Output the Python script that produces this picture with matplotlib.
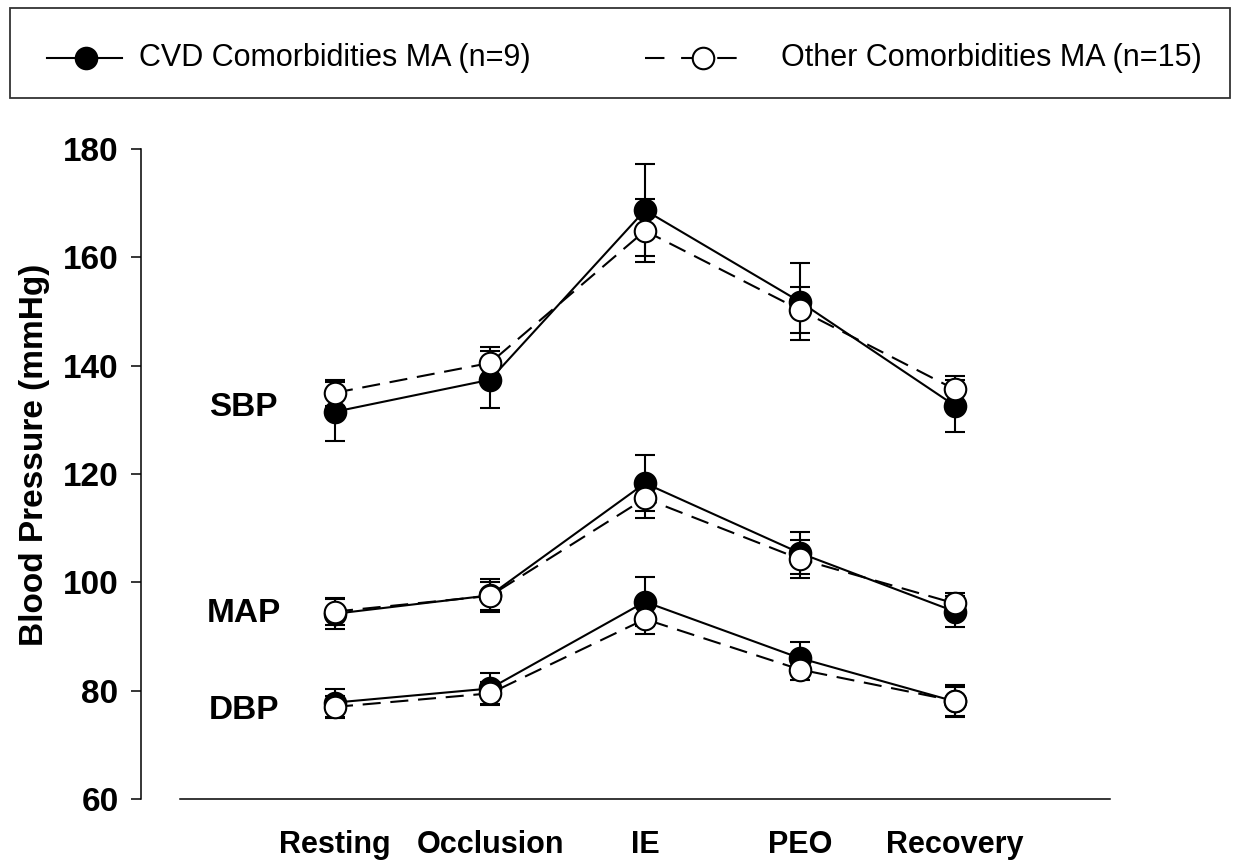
import matplotlib
matplotlib.use("Agg")
import matplotlib.pyplot as plt
from matplotlib.lines import Line2D
from matplotlib.patches import Rectangle

plt.rcParams['font.family'] = ['Liberation Sans', 'DejaVu Sans']
plt.rcParams['lines.scale_dashes'] = False

# Experimental phases
stages = ['Resting', 'Occlusion', 'IE', 'PEO', 'Recovery']

# Systolic blood pressure (mean, SE)
sbp_cvd = [131.5, 137.4, 168.7, 151.8, 132.6]
sbp_cvd_err = [5.4, 5.3, 8.5, 7.1, 4.8]
sbp_other = [135.0, 140.5, 164.9, 150.3, 135.6]
sbp_other_err = [2.4, 3.0, 5.8, 4.2, 2.4]

# Mean arterial pressure (mean, SE)
map_cvd = [94.2, 97.6, 118.3, 105.4, 94.6]
map_cvd_err = [2.9, 3.0, 5.2, 3.9, 2.8]
map_other = [94.6, 97.5, 115.5, 104.3, 96.1]
map_other_err = [2.4, 2.6, 3.6, 3.5, 1.9]

# Diastolic blood pressure (mean, SE)
dbp_cvd = [77.8, 80.4, 96.4, 86.0, 78.0]
dbp_cvd_err = [2.6, 2.8, 4.5, 3.0, 2.7]
dbp_other = [77.0, 79.5, 93.2, 83.9, 78.1]
dbp_other_err = [2.1, 2.1, 2.8, 1.9, 2.9]

group_names = ['SBP', 'MAP', 'DBP']
group_label_y = [132.2, 94.2, 76.4]

cvd_label = 'CVD Comorbidities MA (n=9)'
other_label = 'Other Comorbidities MA (n=15)'

W, H = 1243, 863
fig = plt.figure(figsize=(W / 100, H / 100), dpi=100)
ax = fig.add_axes([180 / W, 64 / H, 930 / W, 650 / H])

x = list(range(1, len(stages) + 1))
dash = (13, 7)
lw = 1.5
ms = 15.5

series = [
    (sbp_cvd, sbp_cvd_err, sbp_other, sbp_other_err),
    (map_cvd, map_cvd_err, map_other, map_other_err),
    (dbp_cvd, dbp_cvd_err, dbp_other, dbp_other_err),
]

for cvd, cvd_err, oth, oth_err in series:
    ax.errorbar(x, cvd, yerr=cvd_err, fmt='none', ecolor='black',
                elinewidth=lw, capsize=7.2, capthick=lw, zorder=2)
    ax.errorbar(x, oth, yerr=oth_err, fmt='none', ecolor='black',
                elinewidth=lw, capsize=7.2, capthick=lw, zorder=2)
    ax.plot(x, cvd, '-', color='black', lw=lw, marker='o', ms=ms,
            mfc='black', mec='black', mew=lw, zorder=3)
    ax.plot(x, oth, color='black', lw=lw, dashes=dash, marker='o', ms=ms,
            mfc='white', mec='black', mew=lw, zorder=4)

for name, gy in zip(group_names, group_label_y):
    ax.text(0.41, gy, name, fontsize=24, fontweight='bold',
            ha='center', va='center')

ax.set_xlim(0, 6)
ax.set_ylim(60, 180)
ax.set_yticks(range(60, 181, 20))
ax.set_xticks(x)
ax.set_xticklabels(stages)

for s in ('top', 'right'):
    ax.spines[s].set_visible(False)
ax.spines['left'].set_position(('outward', 28))
ax.spines['left'].set_linewidth(1.1)
ax.spines['bottom'].set_linewidth(1.1)

ax.tick_params(axis='y', direction='out', length=7.2, width=1.1, pad=9,
               labelsize=24)
ax.tick_params(axis='x', direction='out', length=0, width=1.1, pad=22,
               labelsize=22)
for lab in ax.get_xticklabels() + ax.get_yticklabels():
    lab.set_fontweight('bold')

ax.set_ylabel('Blood Pressure (mmHg)', fontsize=24, fontweight='bold')
ax.yaxis.set_label_coords(-0.140, 0.529)

# Legend box across the top
def fx(px):
    return px / W

def fy(py):
    return 1 - py / H

fig.add_artist(Rectangle((fx(10), fy(98)), fx(1230) - fx(10), fy(8) - fy(98),
                         transform=fig.transFigure, fill=False,
                         edgecolor='#333333', lw=1.3))
ly = fy(58)
fig.add_artist(Line2D([fx(47), fx(122)], [ly, ly], transform=fig.transFigure,
                      color='black', lw=lw))
fig.add_artist(Line2D([fx(86)], [ly], transform=fig.transFigure,
                      marker='o', ms=ms, mfc='black', mec='black', mew=lw))
fig.text(fx(139), ly, cvd_label, fontsize=22, ha='left', va='center')

fig.add_artist(Line2D([fx(645), fx(745)], [ly, ly], transform=fig.transFigure,
                      color='black', lw=lw, dashes=(14, 12)))
fig.add_artist(Line2D([fx(703)], [ly], transform=fig.transFigure,
                      marker='o', ms=ms, mfc='white', mec='black', mew=lw))
fig.text(fx(781), ly, other_label, fontsize=22, ha='left', va='center')

fig.savefig('out.png', dpi=100)
